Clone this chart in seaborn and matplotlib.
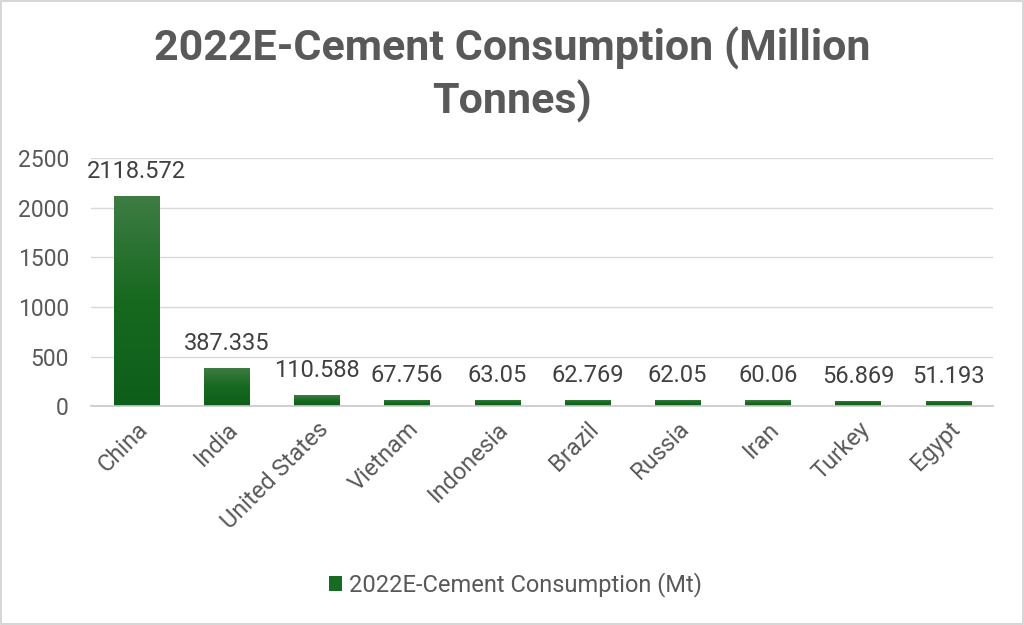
import numpy as np
import pandas as pd
import matplotlib
matplotlib.use('Agg')
import matplotlib.pyplot as plt
from matplotlib.colors import LinearSegmentedColormap
import seaborn as sns

# Datos del gráfico
paises = ['China', 'India', 'United States', 'Vietnam', 'Indonesia',
          'Brazil', 'Russia', 'Iran', 'Turkey', 'Egypt']
consumo = [2118.572, 387.335, 110.588, 67.756, 63.05,
           62.769, 62.05, 60.06, 56.869, 51.193]
etiquetas = ['2118.572', '387.335', '110.588', '67.756', '63.05',
             '62.769', '62.05', '60.06', '56.869', '51.193']
y_ticks = [0, 500, 1000, 1500, 2000, 2500]

df = pd.DataFrame({'pais': paises, 'consumo': consumo})

sns.set_theme(style='white')
plt.rcParams['font.family'] = ['Roboto', 'DejaVu Sans']

gris = '#595959'
verde = '#176b22'

fig = plt.figure(figsize=(10.24, 6.25), dpi=100)
ax = fig.add_axes([0.089, 0.350, 0.881, 0.397])

ax = sns.barplot(data=df, x='pais', y='consumo', color=verde, width=0.5,
                 saturation=1, ax=ax, label='2022E-Cement Consumption (Mt)')

# Degradado vertical en cada barra
cmap = LinearSegmentedColormap.from_list('g', ['#0e5e1b', '#17691f', '#3e7c44'])
grad = np.linspace(0, 1, 256).reshape(-1, 1)
for bar in ax.patches:
    x0, y0 = bar.get_x(), bar.get_y()
    w, h = bar.get_width(), bar.get_height()
    im = ax.imshow(grad, cmap=cmap, aspect='auto', origin='lower',
                   extent=[x0, x0 + w, y0, y0 + h], zorder=bar.get_zorder())
    im.set_clip_path(bar)
    bar.set_edgecolor('none')

ax.set_xlim(-0.5, 9.5)
ax.set_ylim(0, 2500)
ax.set_yticks(y_ticks)
ax.yaxis.grid(True, color='#d9d9d9', linewidth=1)
ax.set_axisbelow(True)
for s in ['top', 'right', 'left']:
    ax.spines[s].set_visible(False)
ax.spines['bottom'].set_color('#c8c8c8')
ax.spines['bottom'].set_linewidth(1.2)

ax.set_xlabel('')
ax.set_ylabel('')
ax.tick_params(axis='y', labelsize=16.5, labelcolor=gris, length=0, pad=16)
ax.tick_params(axis='x', labelsize=17, labelcolor=gris, length=0, pad=8)
plt.setp(ax.get_xticklabels(), rotation=45, ha='right', rotation_mode='anchor')

# Etiquetas de valor
for i, v in enumerate(consumo):
    ax.text(i, v + 130, etiquetas[i], ha='center', va='bottom',
            fontsize=17, color='#404040')

fig.text(0.5, 0.88, '2022E-Cement Consumption (Million\nTonnes)', ha='center',
         va='center', fontsize=31, fontweight='bold', color=gris, linespacing=1.3)

leg = ax.legend(loc='center', bbox_to_anchor=(0.47, -0.72), frameon=False,
                fontsize=17, handlelength=0.55, handleheight=0.55, handletextpad=0.3)
for t in leg.get_texts():
    t.set_color(gris)

# Marco de la figura
fig.patches.append(plt.Rectangle((0.001, 0.001), 0.998, 0.997, transform=fig.transFigure,
                                 fill=False, edgecolor='#d0d0d0', linewidth=1.2))

fig.savefig('out.png', dpi=100)
